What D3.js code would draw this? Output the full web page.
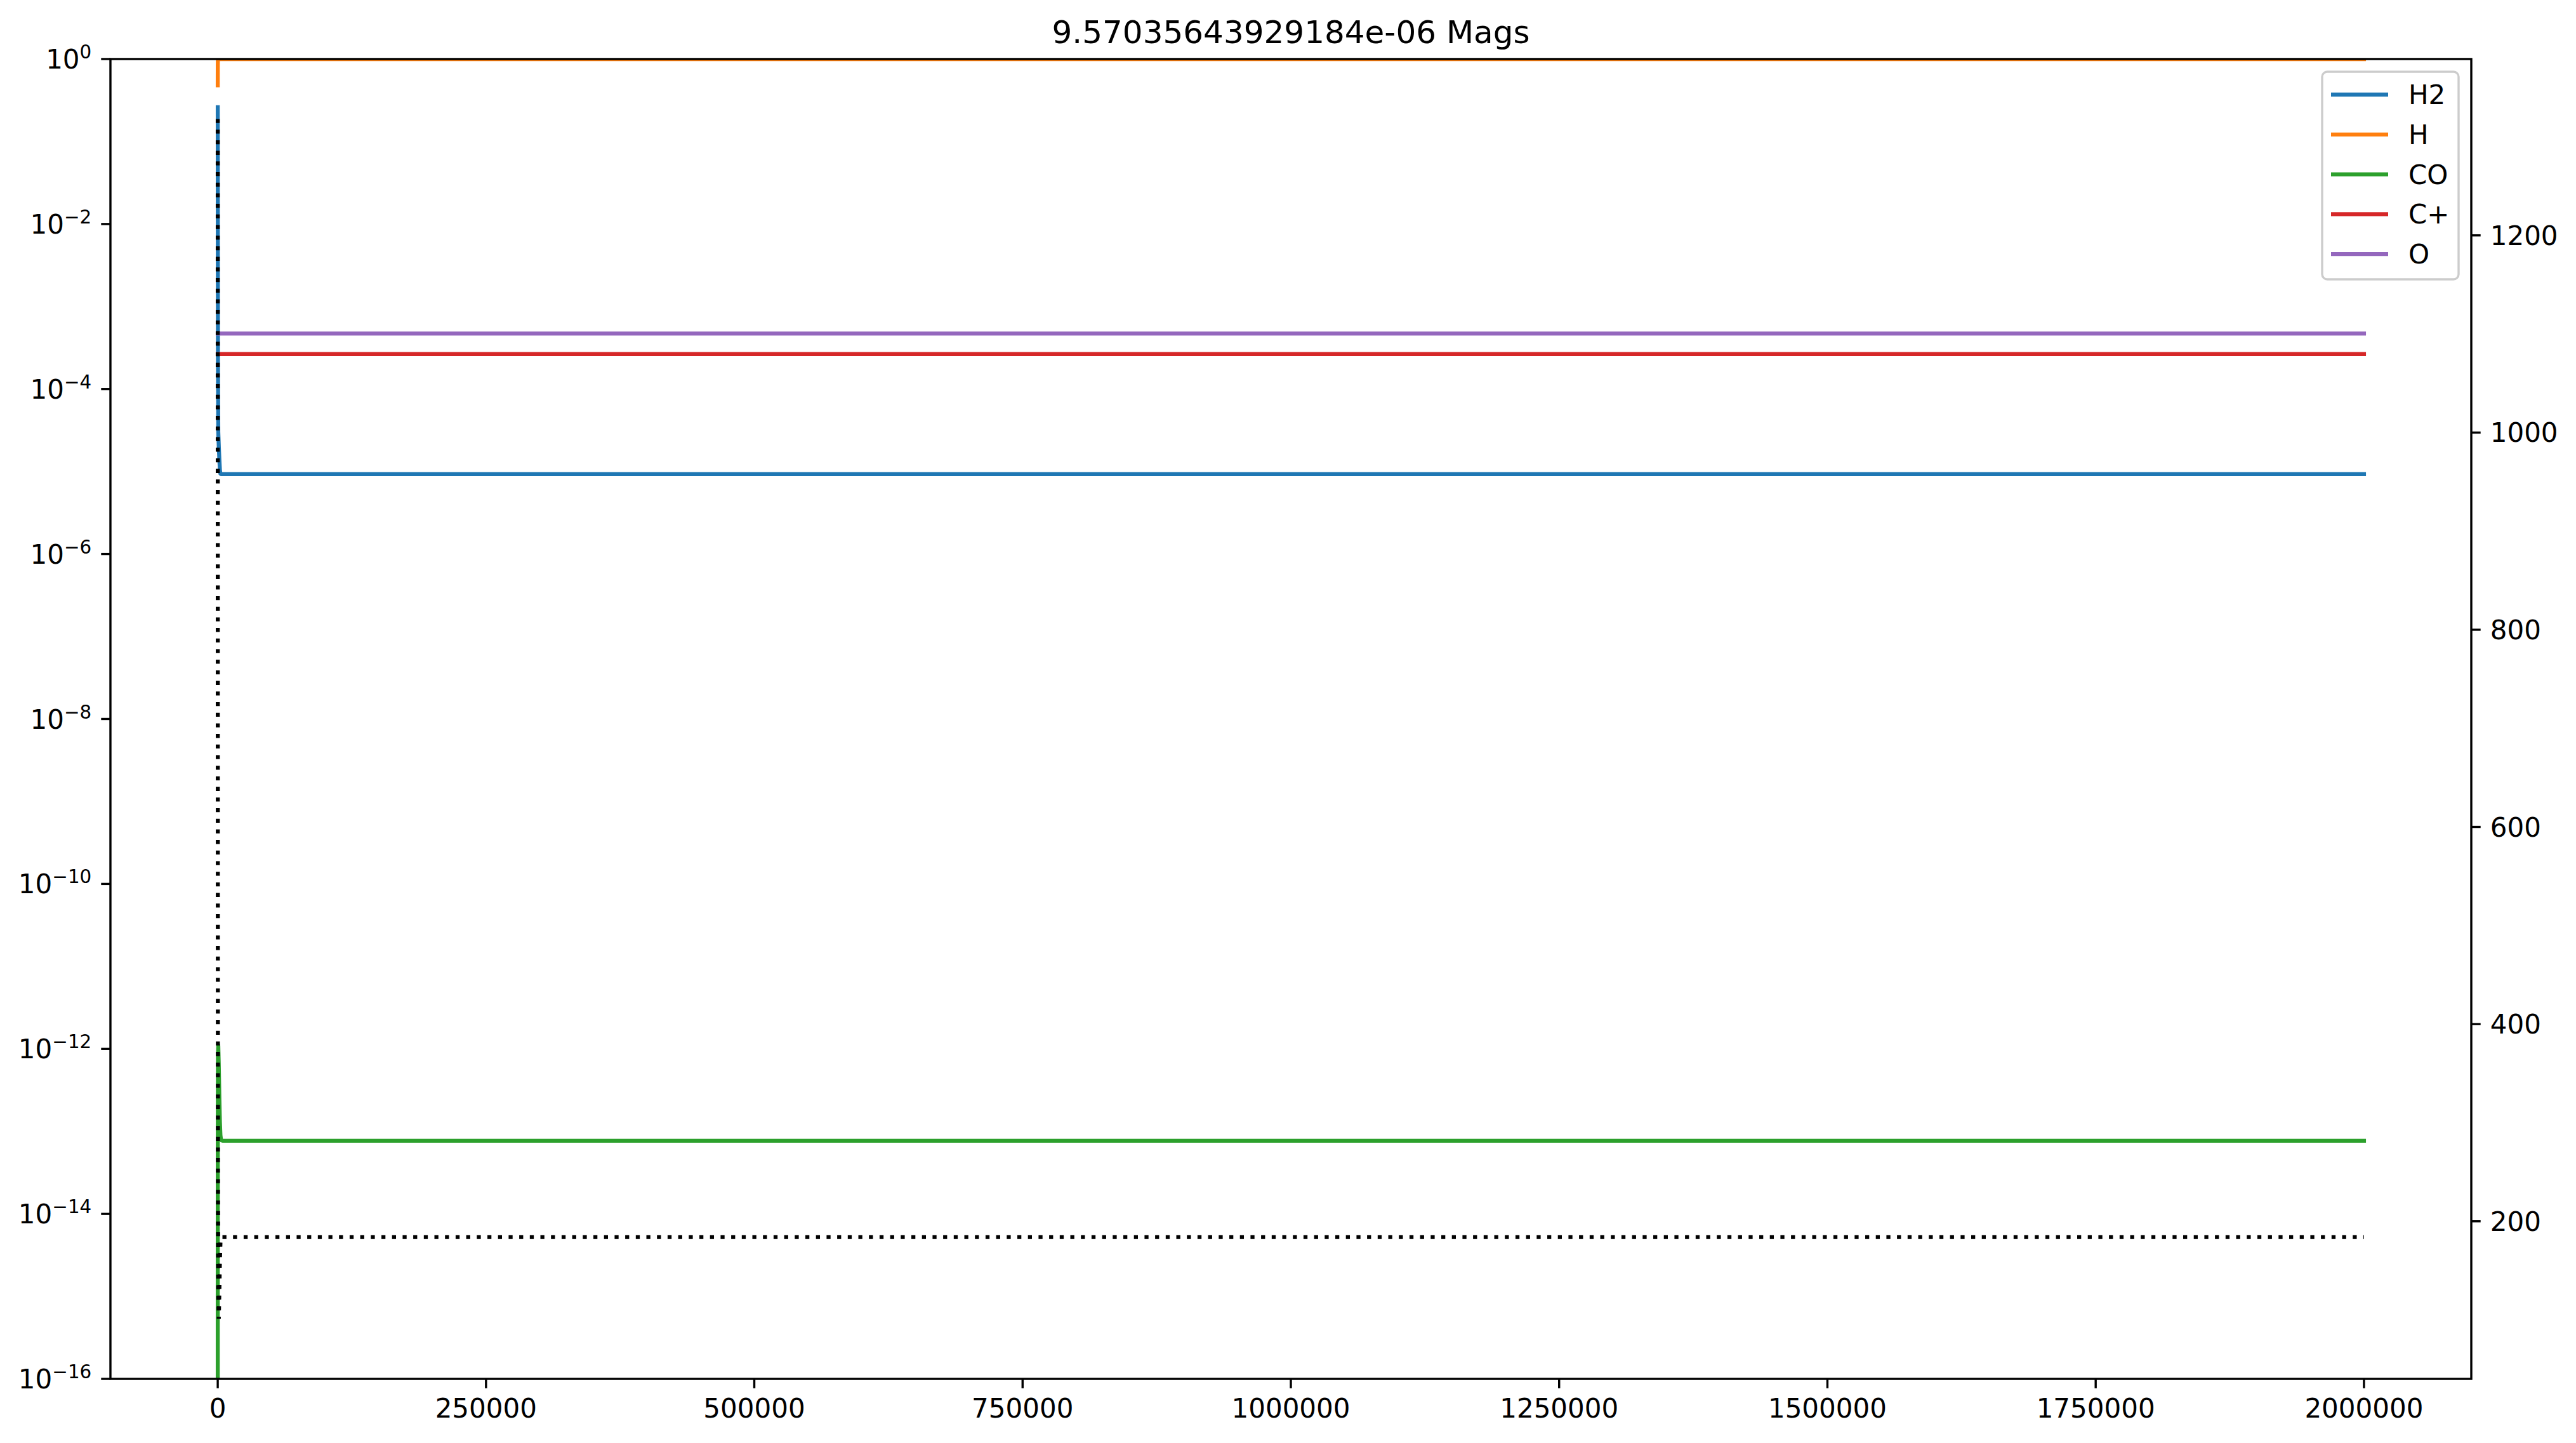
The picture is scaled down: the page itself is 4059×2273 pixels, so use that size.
<!DOCTYPE html>
<html>
<head>
<meta charset="utf-8">
<script src="https://cdn.jsdelivr.net/npm/d3@7"></script>
<style>
  html, body { margin: 0; padding: 0; background: #ffffff; }
  svg { display: block; }
  text { font-family: "DejaVu Sans", sans-serif; fill: #000; }
</style>
</head>
<body>
<script>
// ---------------- data ----------------
const titleText = "9.57035643929184e-06 Mags";
const times = [0, 10, 50, 100, 200, 500, 1000, 1500, 2000, 2500, 3000, 3500, 5000, 10000, 25000, 50000, 75000, 100000, 150000, 250000, 500000, 750000, 1000000, 1250000, 1500000, 1750000, 2000000];
const seriesNames = ["H2", "H", "CO", "C+", "O"];
const seriesColors = ["#1f77b4", "#ff7f0e", "#2ca02c", "#d62728", "#9467bd"];
const H2 = [0.26, 0.2, 0.05, 5e-3, 2.4e-4, 3e-5, 2e-5, 1.4e-5, 1.05e-5, 9.4e-6, 9.3e-6, 9.3e-6, 9.3e-6, 9.3e-6, 9.3e-6, 9.3e-6, 9.3e-6, 9.3e-6, 9.3e-6, 9.3e-6, 9.3e-6, 9.3e-6, 9.3e-6, 9.3e-6, 9.3e-6, 9.3e-6, 9.3e-6];
const H = [0.48, 0.6, 0.84, 0.94, 0.99, 0.999, 0.99995, 0.99998, 0.99998, 0.99998, 0.99998, 0.99998, 0.99998, 0.99998, 0.99998, 0.99998, 0.99998, 0.99998, 0.99998, 0.99998, 0.99998, 0.99998, 0.99998, 0.99998, 0.99998, 0.99998, 0.99998];
const CO = [1e-17, 1e-15, 3e-14, 2e-13, 8e-13, 1.1e-12, 6e-13, 2.5e-13, 1.3e-13, 9e-14, 8e-14, 7.8e-14, 7.7e-14, 7.7e-14, 7.7e-14, 7.7e-14, 7.7e-14, 7.7e-14, 7.7e-14, 7.7e-14, 7.7e-14, 7.7e-14, 7.7e-14, 7.7e-14, 7.7e-14, 7.7e-14, 7.7e-14];
const Cplus = [2.65e-4, 2.65e-4, 2.65e-4, 2.65e-4, 2.65e-4, 2.65e-4, 2.65e-4, 2.65e-4, 2.65e-4, 2.65e-4, 2.65e-4, 2.65e-4, 2.65e-4, 2.65e-4, 2.65e-4, 2.65e-4, 2.65e-4, 2.65e-4, 2.65e-4, 2.65e-4, 2.65e-4, 2.65e-4, 2.65e-4, 2.65e-4, 2.65e-4, 2.65e-4, 2.65e-4];
const O = [4.7e-4, 4.7e-4, 4.7e-4, 4.7e-4, 4.7e-4, 4.7e-4, 4.7e-4, 4.7e-4, 4.7e-4, 4.7e-4, 4.7e-4, 4.7e-4, 4.7e-4, 4.7e-4, 4.7e-4, 4.7e-4, 4.7e-4, 4.7e-4, 4.7e-4, 4.7e-4, 4.7e-4, 4.7e-4, 4.7e-4, 4.7e-4, 4.7e-4, 4.7e-4, 4.7e-4];
const temperature = [1318, 1100, 700, 450, 250, 130, 101, 130, 160, 178, 183, 184, 184, 184, 184, 184, 184, 184, 184, 184, 184, 184, 184, 184, 184, 184, 184];
const xTicks = [0, 250000, 500000, 750000, 1000000, 1250000, 1500000, 1750000, 2000000];
const yLeftTicks = [1, 1e-2, 1e-4, 1e-6, 1e-8, 1e-10, 1e-12, 1e-14, 1e-16];
const yRightTicks = [200, 400, 600, 800, 1000, 1200];

// ---------------- layout ----------------
const W = 4059, H_ = 2273;
const plot = { left: 174, right: 3894, top: 93, bottom: 2172 };
const FS = 42;

const svg = d3.select("body").append("svg").attr("width", W).attr("height", H_);
svg.append("rect").attr("width", W).attr("height", H_).attr("fill", "#fff");

const xPad = (d3.max(times) - d3.min(times)) * 0.05;
const x = d3.scaleLinear().domain([d3.min(times) - xPad, d3.max(times) + xPad]).range([plot.left, plot.right]);
const yL = d3.scaleLog().domain([1e-16, 1]).range([plot.bottom, plot.top]);
const tExt = d3.extent(temperature);
const tPad = (tExt[1] - tExt[0]) * 0.05;
const yR = d3.scaleLinear().domain([tExt[0] - tPad, tExt[1] + tPad]).range([plot.bottom, plot.top]);

svg.append("clipPath").attr("id", "clip").append("rect")
  .attr("x", plot.left).attr("y", plot.top)
  .attr("width", plot.right - plot.left).attr("height", plot.bottom - plot.top);

const g = svg.append("g").attr("clip-path", "url(#clip)");
const seriesData = [H2, H, CO, Cplus, O];
seriesData.forEach((vals, i) => {
  const line = d3.line().x((d, j) => x(times[j])).y(d => yL(Math.max(d, 1e-30)));
  g.append("path").datum(vals).attr("d", line)
    .attr("fill", "none").attr("stroke", seriesColors[i])
    .attr("stroke-width", 6.3).attr("stroke-linejoin", "round").attr("stroke-linecap", "square");
});
const tLine = d3.line().x((d, j) => x(times[j])).y(d => yR(d));
g.append("path").datum(temperature).attr("d", tLine)
  .attr("fill", "none").attr("stroke", "#000").attr("stroke-width", 6.3)
  .attr("stroke-dasharray", "6.3,10.4").attr("stroke-linecap", "butt");

// ---------------- axes ----------------
const axisG = svg.append("g");
const spineW = 3.4;
const tickLen = 14.7;
// bottom ticks
xTicks.forEach(v => {
  const px = x(v);
  axisG.append("line").attr("x1", px).attr("x2", px).attr("y1", plot.bottom).attr("y2", plot.bottom + tickLen)
    .attr("stroke", "#000").attr("stroke-width", spineW);
  axisG.append("text").attr("x", px).attr("y", plot.bottom + tickLen + 14 + FS * 0.76)
    .attr("text-anchor", "middle").attr("font-size", FS).text(d3.format("d")(v));
});
// left log ticks
yLeftTicks.forEach(v => {
  const py = yL(v);
  axisG.append("line").attr("x1", plot.left - tickLen).attr("x2", plot.left).attr("y1", py).attr("y2", py)
    .attr("stroke", "#000").attr("stroke-width", spineW);
  const e = Math.round(Math.log10(v));
  const t = axisG.append("text").attr("x", plot.left - tickLen - 15).attr("y", py + 15)
    .attr("text-anchor", "end").attr("font-size", FS);
  t.append("tspan").text("10");
  t.append("tspan").attr("font-size", FS * 0.7).attr("dy", -16)
    .text(e < 0 ? "\u2212" + Math.abs(e) : String(e));
});
// right ticks
yRightTicks.forEach(v => {
  const py = yR(v);
  axisG.append("line").attr("x1", plot.right).attr("x2", plot.right + tickLen).attr("y1", py).attr("y2", py)
    .attr("stroke", "#000").attr("stroke-width", spineW);
  axisG.append("text").attr("x", plot.right + tickLen + 15).attr("y", py + FS * 0.36)
    .attr("text-anchor", "start").attr("font-size", FS).text(v);
});
// spines
axisG.append("rect").attr("x", plot.left).attr("y", plot.top)
  .attr("width", plot.right - plot.left).attr("height", plot.bottom - plot.top)
  .attr("fill", "none").attr("stroke", "#000").attr("stroke-width", spineW);

// title
svg.append("text").attr("x", (plot.left + plot.right) / 2).attr("y", 68)
  .attr("text-anchor", "middle").attr("font-size", 50).text(titleText);

// ---------------- legend ----------------
const lg = svg.append("g");
const lgX = 3659, lgY = 113, lgW = 215, lgH = 327;
lg.append("rect").attr("x", lgX).attr("y", lgY).attr("width", lgW).attr("height", lgH)
  .attr("rx", 8).attr("ry", 8).attr("fill", "#fff").attr("fill-opacity", 0.8)
  .attr("stroke", "#cccccc").attr("stroke-width", 3.4);
seriesNames.forEach((name, i) => {
  const cy = 149 + i * 62.8;
  lg.append("line").attr("x1", 3673).attr("x2", 3763).attr("y1", cy).attr("y2", cy)
    .attr("stroke", seriesColors[i]).attr("stroke-width", 6.3);
  lg.append("text").attr("x", 3795).attr("y", cy + 15).attr("font-size", FS).text(name);
});
</script>
</body>
</html>
